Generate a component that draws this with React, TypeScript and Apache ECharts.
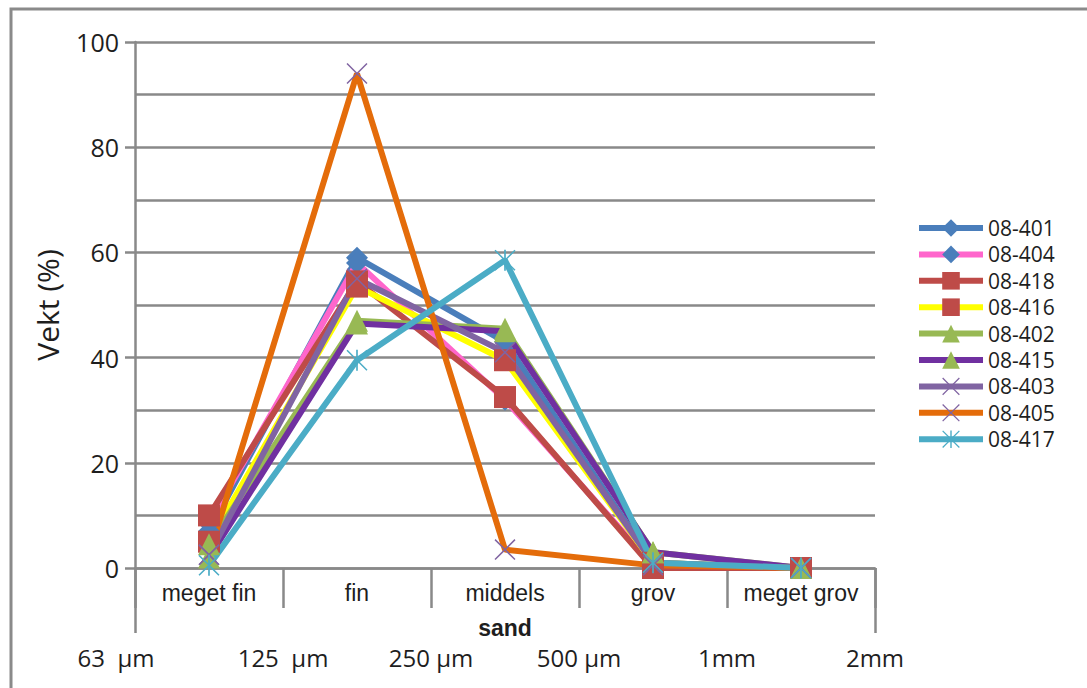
import React, { useEffect, useRef } from "react";
import * as echarts from "echarts";

const categories = ["meget fin", "fin", "middels", "grov", "meget grov"];
const sizeLabels = ["63  µm", "125  µm", "250 µm", "500 µm", "1mm", "2mm"];
const yTicks = [0, 20, 40, 60, 80, 100];

const s401 = [7, 59, 43, 1, 0];
const s404 = [8.5, 58, 32, 0.5, 0];
const s418 = [10, 54.5, 32.5, 0, 0];
const s416 = [5, 53.5, 39.5, 1, 0];
const s402 = [4.5, 47, 45.5, 3, 0];
const s415 = [2, 46.5, 45, 3, 0];
const s403 = [2.5, 55, 41, 1, 0];
const s405 = [2.5, 94, 3.5, 0.5, 0];
const s417 = [0.5, 39.5, 58.5, 1, 0];

const X_PATH =
  "path://M0,1L1,0L10,9L19,0L20,1L11,10L20,19L19,20L10,11L1,20L0,19L9,10Z";
const STAR_PATH =
  "path://M0,1L1,0L10,9L19,0L20,1L11,10L20,19L19,20L10,11L1,20L0,19L9,10Z M9.2,0L10.8,0L10.8,20L9.2,20Z";

const seriesDefs = [
  { name: "08-401", data: s401, line: "#4a7ebb", mark: "#4a7ebb", symbol: "diamond", size: 22 },
  { name: "08-404", data: s404, line: "#ff66cc", mark: "#4a7ebb", symbol: "diamond", size: 22 },
  { name: "08-418", data: s418, line: "#be4b48", mark: "#be4b48", symbol: "rect", size: 22 },
  { name: "08-416", data: s416, line: "#ffff00", mark: "#be4b48", symbol: "rect", size: 22 },
  { name: "08-402", data: s402, line: "#98b954", mark: "#98b954", symbol: "triangle", size: 22 },
  { name: "08-415", data: s415, line: "#7030a0", mark: "#98b954", symbol: "triangle", size: 22 },
  { name: "08-403", data: s403, line: "#8064a2", mark: "#8064a2", symbol: X_PATH, size: 21 },
  { name: "08-405", data: s405, line: "#e46c0a", mark: "#8064a2", symbol: X_PATH, size: 21 },
  { name: "08-417", data: s417, line: "#4bacc6", mark: "#4bacc6", symbol: STAR_PATH, size: 21 },
];

const GRAY = "#898989";
const TEXT = "#1e1e1e";

export default function App() {
  const ref = useRef<HTMLDivElement>(null);
  useEffect(() => {
    if (!ref.current) return;
    const chart = echarts.init(ref.current, null, { renderer: "svg" });
    chart.setOption({
      animation: false,
      backgroundColor: "#ffffff",
      grid: { left: 135, right: 212, top: 42, bottom: 120, containLabel: false },
      graphic: [
        {
          type: "rect",
          shape: { x: 11, y: 9, width: 1100, height: 720 },
          style: { fill: "none", stroke: "#8a8a8a", lineWidth: 3 },
          silent: true,
          z: -10,
        },
      ],
      legend: {
        orient: "vertical",
        left: 911,
        top: 212,
        itemWidth: 64,
        itemHeight: 22,
        itemGap: 4.4,
        lineStyle: { width: 6 },
        textStyle: {
          fontFamily: "Open Sans",
          fontSize: 21,
          lineHeight: 22,
          color: TEXT,
        },
        data: seriesDefs.map((s) => s.name),
      },
      xAxis: [
        {
          type: "category",
          data: categories,
          boundaryGap: true,
          position: "bottom",
          axisLine: { show: true, lineStyle: { color: GRAY, width: 2.5 } },
          axisTick: { show: true, interval: 0, length: 40, lineStyle: { color: GRAY, width: 2.5 } },
          axisLabel: {
            interval: 0,
            margin: 13,
            fontFamily: "Liberation Sans",
            fontSize: 23,
            color: TEXT,
          },
          splitLine: { show: false },
          name: "sand",
          nameLocation: "middle",
          nameGap: 48,
          nameTextStyle: {
            fontFamily: "Liberation Sans",
            fontWeight: "bold",
            fontSize: 23,
            color: TEXT,
          },
        },
        {
          type: "value",
          min: 0,
          max: 5,
          interval: 1,
          position: "bottom",
          axisLine: { show: false },
          axisTick: {
            show: true,
            customValues: [0, 5],
            length: 65,
            lineStyle: { color: GRAY, width: 2.5 },
          },
          axisLabel: {
            customValues: [0, 1, 2, 3, 4, 5],
            margin: 77,
            fontFamily: "Open Sans",
            fontSize: 24,
            color: TEXT,
            formatter: (v: number) => {
              const i = Math.round(v);
              const t = sizeLabels[i] ?? "";
              return i === 0 ? "{a|" + t + "}" : t;
            },
            rich: {
              a: {
                fontFamily: "Open Sans",
                fontSize: 24,
                color: TEXT,
                padding: [0, 38, 0, 0],
              },
            },
          },
          splitLine: { show: false },
        },
      ],
      yAxis: [
        {
          type: "value",
          min: 0,
          max: 100,
          interval: 10,
          position: "left",
          axisLine: { show: true, lineStyle: { color: GRAY, width: 2.5 } },
          axisTick: { show: false },
          axisLabel: { show: false },
          splitLine: { show: true, lineStyle: { color: GRAY, width: 2.5 } },
          name: "Vekt (%)",
          nameLocation: "middle",
          nameRotate: 90,
          nameGap: 73,
          nameTextStyle: { fontFamily: "Open Sans", fontSize: 30, color: TEXT },
        },
        {
          type: "value",
          min: 0,
          max: 100,
          interval: 20,
          position: "left",
          axisLine: { show: false },
          axisTick: { show: true, length: 10, lineStyle: { color: GRAY, width: 2.5 } },
          axisLabel: {
            margin: 16,
            fontFamily: "Open Sans",
            fontSize: 25,
            color: TEXT,
            customValues: yTicks,
          },
          splitLine: { show: false },
        },
      ],
      series: seriesDefs.map((s) => ({
        name: s.name,
        type: "line",
        xAxisIndex: 0,
        yAxisIndex: 0,
        data: s.data,
        symbol: s.symbol,
        symbolSize: s.size,
        showSymbol: true,
        lineStyle: { color: s.line, width: 6 },
        itemStyle: { color: s.mark, borderWidth: 0 },
        emphasis: { disabled: true },
      })),
    });
    return () => chart.dispose();
  }, []);
  return (
    <div
      ref={ref}
      style={{ position: "fixed", left: 0, top: 0, width: 1087, height: 688 }}
    />
  );
}
